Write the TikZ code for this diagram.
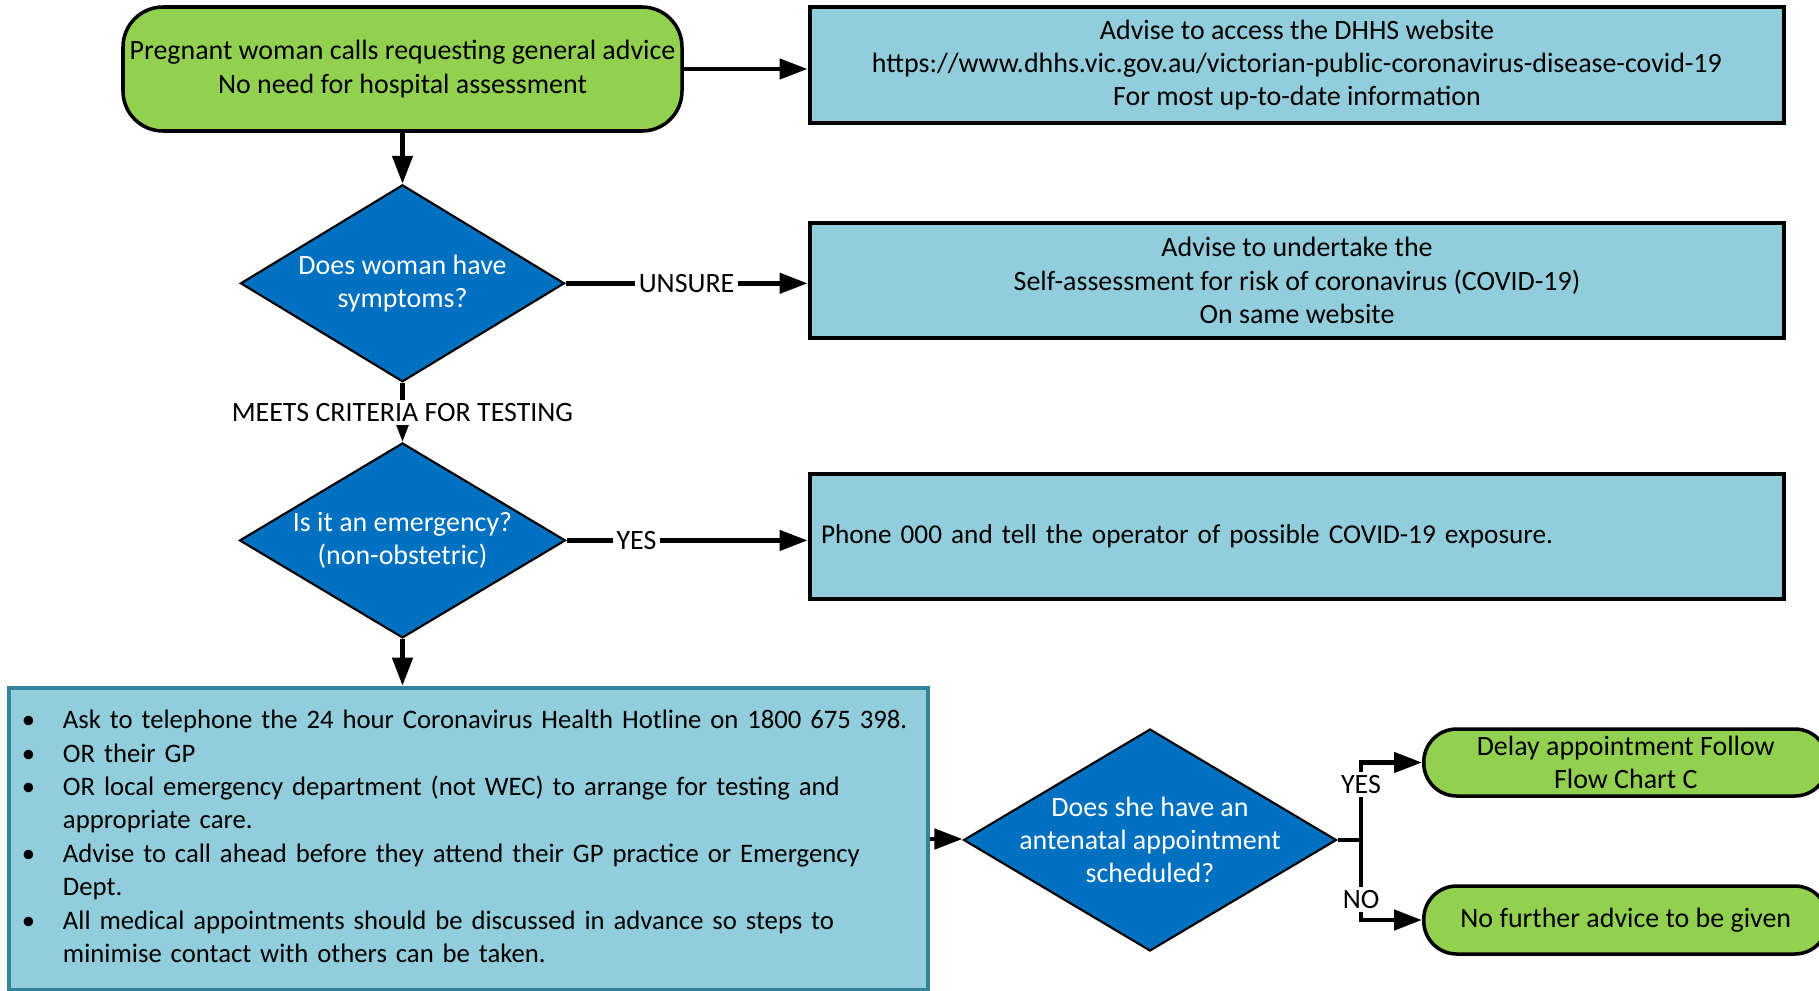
\documentclass[tikz,border=0pt]{standalone}
\usepackage{fontspec}
\setmainfont{Carlito}
\usetikzlibrary{shapes,arrows.meta,positioning}

\definecolor{leafgreen}{HTML}{92D050}
\definecolor{paleblue}{HTML}{92CDDC}
\definecolor{deepblue}{HTML}{0070C0}
\definecolor{tealedge}{HTML}{31849B}

\begin{document}
\begin{tikzpicture}[font=\fontsize{7.95}{9.5}\selectfont, thick]
    % Styles
    \tikzstyle{terminal}=[rectangle, rounded corners=0.4cm, draw=black, line width=1pt, fill=leafgreen, align=center, inner sep=0pt]
    \tikzstyle{infobox}=[rectangle, draw=black, line width=1.4pt, fill=paleblue, minimum width=9.74cm, inner sep=0pt]
    \tikzstyle{decision}=[diamond, draw=black, line width=0.6pt, fill=deepblue, inner sep=0pt]
    \tikzstyle{dectext}=[text=white, align=center]
    \tikzstyle{arrow}=[-{Triangle[length=2.8mm,width=2.0mm]}, line width=1.3pt]
    \tikzstyle{tag}=[fill=white, inner sep=1pt]

    \useasboundingbox (0,0) rectangle (18.19,-9.90);

    % Nodes
    \node (start) [terminal, minimum width=5.59cm, minimum height=1.24cm] at (4.025,-0.69) {Pregnant woman calls requesting general advice\\No need for hospital assessment};
    \node (symptoms) [decision, minimum width=3.24cm, minimum height=1.97cm, below=0.51cm of start, label={[dectext]center:{Does woman have\\symptoms?}}] {};
    \node (emergency) [decision, minimum width=3.26cm, minimum height=1.95cm, below=0.59cm of symptoms, label={[dectext]center:{Is it an emergency?\\(non-obstetric)}}] {};

    \node (dhhs) [infobox, minimum height=1.16cm, align=center] at (12.97,-0.65) {Advise to access the DHHS website\\https://www.dhhs.vic.gov.au/victorian-public-coronavirus-disease-covid-19\\For most up-to-date information};
    \node (selfcheck) [infobox, minimum height=1.15cm, align=center] at (12.97,-2.805) {Advise to undertake the\\Self-assessment for risk of coronavirus (COVID-19)\\On same website};
    \node (phone) [infobox, minimum height=1.25cm, text width=9.52cm, inner xsep=0.11cm, align=left, font=\fontsize{7.75}{9.5}\selectfont] at (12.97,-5.365) {Phone 000 and tell the operator of possible COVID-19 exposure.};

    \node (hotline) [rectangle, draw=tealedge, line width=1.3pt, fill=paleblue, minimum width=9.19cm, minimum height=3.02cm, text width=8.93cm, inner xsep=0.13cm, inner ysep=0pt, align=left, font=\fontsize{7.6}{9.5}\selectfont] at (4.685,-8.39) {%
      \begin{tabular}{@{}p{0.41cm}@{}l@{}}
        \textbullet & Ask to telephone the 24 hour Coronavirus Health Hotline on 1800 675 398.\\
        \textbullet & OR their GP\\
        \textbullet & OR local emergency department (not WEC) to arrange for testing and\\
                    & appropriate care.\\
        \textbullet & Advise to call ahead before they attend their GP practice or Emergency\\
                    & Dept.\\
        \textbullet & All medical appointments should be discussed in advance so steps to\\
                    & minimise contact with others can be taken.
      \end{tabular}};

    \node (appt) [decision, minimum width=3.73cm, minimum height=2.22cm, label={[dectext]center:{Does she have an\\antenatal appointment\\scheduled?}}] at (11.50,-8.40) {};
    \node (delay) [terminal, rounded corners=0.33cm, minimum width=4.04cm, minimum height=0.67cm, anchor=west] at (14.22,-7.625) {Delay appointment Follow\\Flow Chart C};
    \node (nofurther) [terminal, rounded corners=0.33cm, minimum width=4.04cm, minimum height=0.68cm, anchor=west] at (14.22,-9.20) {No further advice to be given};
    \coordinate (fork) at (13.61,-8.40);

    % Connections
    \draw [arrow] (start.south) -- (symptoms.north);
    \draw [arrow] (start.east) -- (start.east -| dhhs.west);
    \draw [arrow] (symptoms.east) -- node[tag]{UNSURE} (symptoms.east -| selfcheck.west);
    \draw [arrow] (symptoms.south) -- node[tag]{MEETS CRITERIA FOR TESTING} (emergency.north);
    \draw [arrow] (emergency.east) -- node[tag, pos=0.29]{YES} (emergency.east -| phone.west);
    \draw [arrow] (emergency.south) -- (emergency.south |- hotline.north);
    \draw [arrow] (hotline.east) -- (hotline.east -| appt.west);
    \draw [line width=1.3pt] (appt.east) -- (fork);
    \draw [arrow] (fork) |- node[tag, pos=0.36]{YES} (delay.west);
    \draw [arrow] (fork) |- node[tag, pos=0.37]{NO} (nofurther.west);

\end{tikzpicture}
\end{document}
